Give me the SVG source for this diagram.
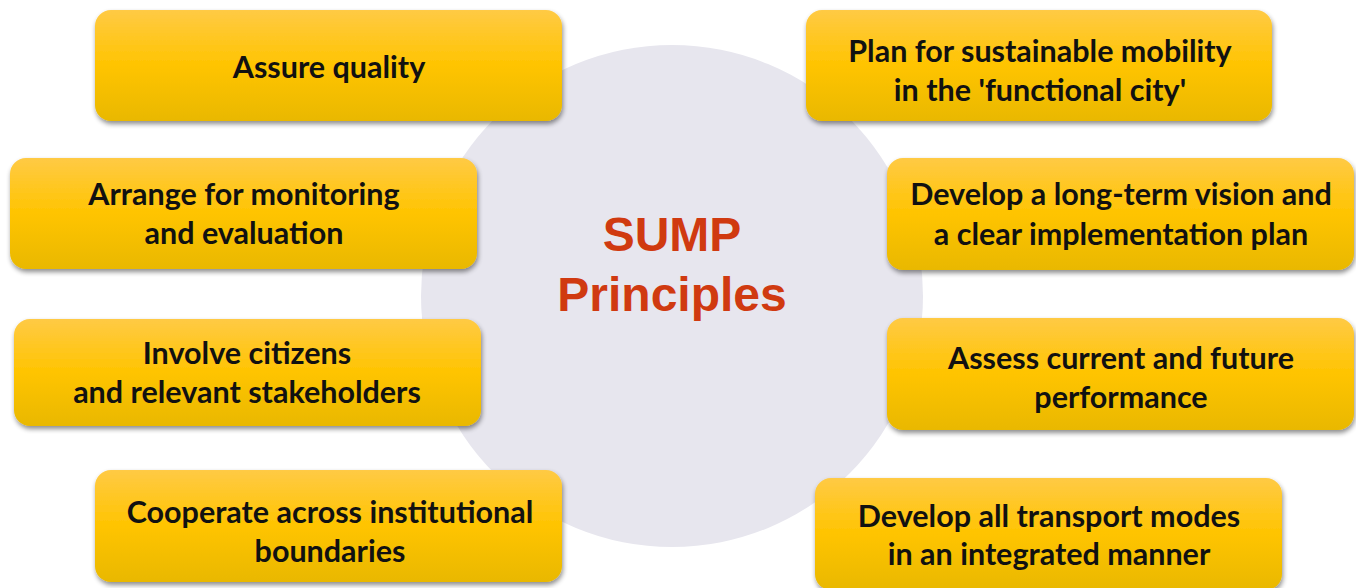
<svg xmlns="http://www.w3.org/2000/svg" width="1356" height="588" viewBox="0 0 1356 588">
<defs>
<linearGradient id="g" x1="0" y1="0" x2="0" y2="1">
<stop offset="0" stop-color="#ffca45"/>
<stop offset="0.5" stop-color="#ffc400"/>
<stop offset="1" stop-color="#e9b800"/>
</linearGradient>
<filter id="sh" x="-5%" y="-10%" width="110%" height="130%">
<feGaussianBlur in="SourceAlpha" stdDeviation="2.5"/>
<feOffset dx="1" dy="3" result="b"/>
<feComponentTransfer><feFuncA type="linear" slope="0.45"/></feComponentTransfer>
<feMerge><feMergeNode/><feMergeNode in="SourceGraphic"/></feMerge>
</filter>
</defs>
<style>
.box{fill:url(#g);filter:url(#sh)}
.t{font-family:Lato,"Open Sans",sans-serif;font-weight:bold;font-size:30.5px;fill:#111;text-anchor:middle}
.c{font-family:"Liberation Sans",Arial,sans-serif;font-weight:bold;font-size:48px;fill:#d03a10;text-anchor:middle}
</style>
<rect width="1356" height="588" fill="#ffffff"/>
<g id="center">
<circle cx="672" cy="296" r="251" fill="#e7e6ee"/>
<text class="c" x="672" y="251">SUMP</text>
<text class="c" x="672" y="311">Principles</text>
</g>
<g id="n1"><rect class="box" x="95" y="10" width="467" height="111" rx="16"/><text class="t" x="329" y="78">Assure quality</text></g>
<g id="n2"><rect class="box" x="10" y="158" width="467" height="111" rx="16"/><text class="t" x="244" y="205">Arrange for monitoring</text><text class="t" x="244" y="244">and evaluation</text></g>
<g id="n3"><rect class="box" x="14" y="319" width="467" height="107" rx="16"/><text class="t" x="247" y="364">Involve citizens</text><text class="t" x="247" y="403">and relevant stakeholders</text></g>
<g id="n4"><rect class="box" x="95" y="470" width="467" height="112" rx="16"/><text class="t" x="330" y="523">Cooperate across institutional</text><text class="t" x="330" y="562">boundaries</text></g>
<g id="n5"><rect class="box" x="806" y="10" width="466" height="111" rx="16"/><text class="t" x="1040" y="62">Plan for sustainable mobility</text><text class="t" x="1040" y="101">in the 'functional city'</text></g>
<g id="n6"><rect class="box" x="887" y="158" width="467" height="112" rx="16"/><text class="t" x="1121" y="205">Develop a long-term vision and</text><text class="t" x="1121" y="245">a clear implementation plan</text></g>
<g id="n7"><rect class="box" x="887" y="318" width="467" height="112" rx="16"/><text class="t" x="1121" y="369">Assess current and future</text><text class="t" x="1121" y="408">performance</text></g>
<g id="n8"><rect class="box" x="815" y="478" width="467" height="112" rx="16"/><text class="t" x="1049" y="527">Develop all transport modes</text><text class="t" x="1049" y="565">in an integrated manner</text></g>
<g id="connectors"></g>
</svg>
